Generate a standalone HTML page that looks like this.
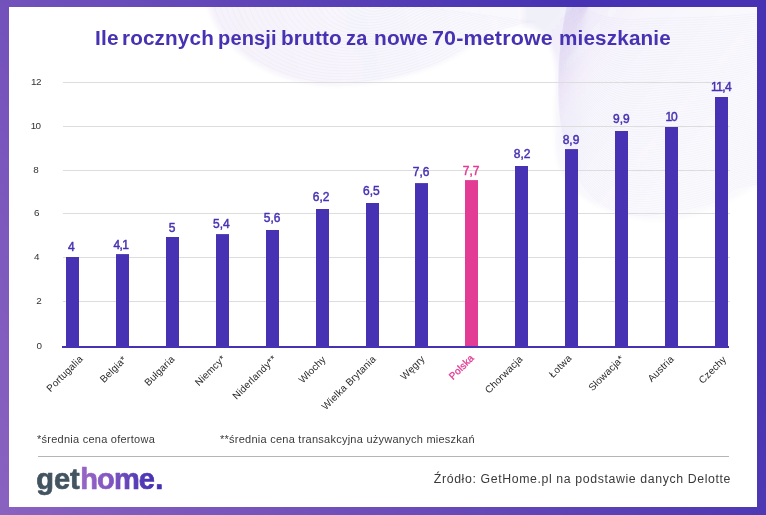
<!DOCTYPE html>
<html lang="pl">
<head>
<meta charset="utf-8">
<title>Ile rocznych pensji brutto za nowe 70-metrowe mieszkanie</title>
<style>
html,body{margin:0;padding:0;}
body{width:766px;height:515px;overflow:hidden;position:relative;font-family:"Liberation Sans",sans-serif;
background:linear-gradient(60deg,#8a62c0 0%,#4632b2 82%,#4632b2 100%);}
.card{position:absolute;left:9px;top:7px;width:748px;height:500px;background:#fff;overflow:hidden;}
.deco{position:absolute;left:0;top:0;}
h1{position:absolute;left:0;top:24px;width:766px;height:28px;margin:0;font-size:20px;line-height:28px;font-weight:bold;color:#4632b2;white-space:nowrap;}
h1 span{position:absolute;top:0;letter-spacing:0.15px;transform-origin:0 0;}
.chart{position:absolute;left:0;top:0;}
.chart text{font-family:"Liberation Sans",sans-serif;}
.yt{font-size:9.9px;fill:#333;text-anchor:middle;}
.y2{letter-spacing:-0.7px;}
.vl{font-size:12px;fill:#4632b2;stroke:#4632b2;stroke-width:0.45px;text-anchor:middle;}
.xl{font-size:10px;fill:#2b2b2b;stroke:none;text-anchor:end;letter-spacing:0.15px;}
.pk{fill:#e23c94;stroke:#e23c94;}
.xl.pk{fill:#e23c94;stroke:#e23c94;stroke-width:0.3px;letter-spacing:0.05px;}
.note{position:absolute;top:431.5px;margin:0;font-size:11px;line-height:14px;color:#3a3a3a;white-space:nowrap;letter-spacing:0.25px;}
.n1{left:37px;}
.n2{left:220px;}
.rule{position:absolute;left:38px;top:456px;width:691px;height:1px;background:#b5b5b5;}
.logo{position:absolute;left:0;top:0;}
.logo text{font-family:"Liberation Sans",sans-serif;}
.src{position:absolute;right:35px;top:470px;margin:0;font-size:12.3px;line-height:18px;color:#3a3a3a;white-space:nowrap;letter-spacing:0.62px;}
</style>
</head>
<body>
<div class="card"></div>
<svg class="deco" width="766" height="515" viewBox="0 0 766 515">
<defs><clipPath id="cardclip"><rect x="9" y="7" width="748" height="500"/></clipPath><filter id="soft" x="-10%" y="-10%" width="120%" height="120%"><feGaussianBlur stdDeviation="2.2"/></filter><linearGradient id="g1" gradientUnits="userSpaceOnUse" x1="230" y1="80" x2="520" y2="0"><stop offset="0" stop-color="#4632b2" stop-opacity="0.052"/><stop offset="1" stop-color="#4632b2" stop-opacity="0.022"/></linearGradient><linearGradient id="g2" gradientUnits="userSpaceOnUse" x1="545" y1="20" x2="700" y2="150"><stop offset="0" stop-color="#4632b2" stop-opacity="0.08"/><stop offset="0.4" stop-color="#4632b2" stop-opacity="0.035"/><stop offset="1" stop-color="#4632b2" stop-opacity="0.02"/></linearGradient></defs>
<g clip-path="url(#cardclip)">
<g filter="url(#soft)"><path d="M207,0 C214,38 248,68 298,81 C340,91 398,82 440,64 C470,50 495,27 524.5,26 L524.5,0 Z" fill="url(#g1)"/><path d="M524,0 L524,26 C545,26 557,50 557,80 C556,100 555,120 556,150 C558,185 590,212 645,220 C690,224 730,202 766,180 L766,0 Z" fill="url(#g2)"/></g>
<g fill="none" stroke="#4632b2" stroke-opacity="0.06" stroke-width="0.5"><path d="M374.2,0.0 C374.5,1.3 375.6,2.3 377.3,2.7 C378.7,3.0 380.6,2.7 382.0,2.1 C383.0,1.7 383.8,0.9 385.3,0.7"/><path d="M368.5,0.0 C368.9,2.5 371.2,4.5 374.5,5.4 C377.3,6.1 381.2,5.5 384.0,4.3 C386.0,3.3 387.7,1.8 390.7,1.5"/><path d="M362.7,0.0 C363.4,3.8 366.8,6.8 371.8,8.1 C376.0,9.1 381.8,8.2 386.0,6.4 C389.0,5.0 391.5,2.7 396.0,2.2"/><path d="M356.9,0.0 C357.9,5.1 362.4,9.1 369.1,10.8 C374.7,12.1 382.4,10.9 388.0,8.5 C392.0,6.7 395.3,3.6 401.3,2.9"/><path d="M351.2,0.0 C352.3,6.3 358.0,11.3 366.3,13.5 C373.3,15.2 383.0,13.7 390.0,10.7 C395.0,8.3 399.2,4.5 406.7,3.7"/><path d="M345.4,0.0 C346.8,7.6 353.6,13.6 363.6,16.2 C372.0,18.2 383.6,16.4 392.0,12.8 C398.0,10.0 403.0,5.4 412.0,4.4"/><path d="M339.6,0.0 C341.3,8.9 349.2,15.9 360.9,18.9 C370.7,21.2 384.2,19.1 394.0,14.9 C401.0,11.7 406.8,6.3 417.3,5.1"/><path d="M333.9,0.0 C335.7,10.1 344.8,18.1 358.1,21.6 C369.3,24.3 384.8,21.9 396.0,17.1 C404.0,13.3 410.7,7.2 422.7,5.9"/><path d="M328.1,0.0 C330.2,11.4 340.4,20.4 355.4,24.3 C368.0,27.3 385.4,24.6 398.0,19.2 C407.0,15.0 414.5,8.1 428.0,6.6"/><path d="M322.3,0.0 C324.7,12.7 336.0,22.7 352.7,27.0 C366.7,30.3 386.0,27.3 400.0,21.3 C410.0,16.7 418.3,9.0 433.3,7.3"/><path d="M316.6,0.0 C319.1,13.9 331.6,24.9 349.9,29.7 C365.3,33.4 386.6,30.1 402.0,23.5 C413.0,18.3 422.2,9.9 438.7,8.1"/><path d="M310.8,0.0 C313.6,15.2 327.2,27.2 347.2,32.4 C364.0,36.4 387.2,32.8 404.0,25.6 C416.0,20.0 426.0,10.8 444.0,8.8"/><path d="M305.0,0.0 C308.1,16.5 322.8,29.5 344.5,35.1 C362.7,39.4 387.8,35.5 406.0,27.7 C419.0,21.7 429.8,11.7 449.3,9.5"/><path d="M299.3,0.0 C302.5,17.7 318.4,31.7 341.7,37.8 C361.3,42.5 388.4,38.3 408.0,29.9 C422.0,23.3 433.7,12.6 454.7,10.3"/><path d="M293.5,0.0 C297.0,19.0 314.0,34.0 339.0,40.5 C360.0,45.5 389.0,41.0 410.0,32.0 C425.0,25.0 437.5,13.5 460.0,11.0"/><path d="M287.7,0.0 C291.5,20.3 309.6,36.3 336.3,43.2 C358.7,48.5 389.6,43.7 412.0,34.1 C428.0,26.7 441.3,14.4 465.3,11.7"/><path d="M282.0,0.0 C285.9,21.5 305.2,38.5 333.5,45.9 C357.3,51.6 390.2,46.5 414.0,36.3 C431.0,28.3 445.2,15.3 470.7,12.5"/><path d="M276.2,0.0 C280.4,22.8 300.8,40.8 330.8,48.6 C356.0,54.6 390.8,49.2 416.0,38.4 C434.0,30.0 449.0,16.2 476.0,13.2"/><path d="M270.4,0.0 C274.9,24.1 296.4,43.1 328.1,51.3 C354.7,57.6 391.4,51.9 418.0,40.5 C437.0,31.7 452.8,17.1 481.3,13.9"/><path d="M264.7,0.0 C269.3,25.3 292.0,45.3 325.3,54.0 C353.3,60.7 392.0,54.7 420.0,42.7 C440.0,33.3 456.7,18.0 486.7,14.7"/><path d="M258.9,0.0 C263.8,26.6 287.6,47.6 322.6,56.7 C352.0,63.7 392.6,57.4 422.0,44.8 C443.0,35.0 460.5,18.9 492.0,15.4"/><path d="M253.1,0.0 C258.3,27.9 283.2,49.9 319.9,59.4 C350.7,66.7 393.2,60.1 424.0,46.9 C446.0,36.7 464.3,19.8 497.3,16.1"/><path d="M247.4,0.0 C252.7,29.1 278.8,52.1 317.1,62.1 C349.3,69.8 393.8,62.9 426.0,49.1 C449.0,38.3 468.2,20.7 502.7,16.9"/><path d="M241.6,0.0 C247.2,30.4 274.4,54.4 314.4,64.8 C348.0,72.8 394.4,65.6 428.0,51.2 C452.0,40.0 472.0,21.6 508.0,17.6"/><path d="M235.8,0.0 C241.7,31.7 270.0,56.7 311.7,67.5 C346.7,75.8 395.0,68.3 430.0,53.3 C455.0,41.7 475.8,22.5 513.3,18.3"/><path d="M230.1,0.0 C236.1,32.9 265.6,58.9 308.9,70.2 C345.3,78.9 395.6,71.1 432.0,55.5 C458.0,43.3 479.7,23.4 518.7,19.1"/><path d="M224.3,0.0 C230.6,34.2 261.2,61.2 306.2,72.9 C344.0,81.9 396.2,73.8 434.0,57.6 C461.0,45.0 483.5,24.3 524.0,19.8"/><path d="M218.5,0.0 C225.1,35.5 256.8,63.5 303.5,75.6 C342.7,84.9 396.8,76.5 436.0,59.7 C464.0,46.7 487.3,25.2 529.3,20.5"/><path d="M212.8,0.0 C219.5,36.7 252.4,65.7 300.7,78.3 C341.3,88.0 397.4,79.3 438.0,61.9 C467.0,48.3 491.2,26.1 534.7,21.3"/><path d="M591.9,0 C577.8,10.6 605.7,21.3 640.1,19.2 S700.0,19.3 766.0,13.0"/><path d="M591.6,0 C577.4,11.7 605.1,23.8 640.4,21.7 S700.0,21.8 766.0,15.1"/><path d="M591.3,0 C577.0,12.8 604.6,26.3 640.6,24.1 S700.0,24.2 766.0,17.1"/><path d="M591.0,0 C576.6,14.0 604.0,28.8 640.8,26.5 S700.0,26.7 766.0,19.2"/><path d="M590.7,0 C576.2,15.1 603.4,31.4 641.1,29.0 S700.0,29.2 766.0,21.2"/><path d="M590.4,0 C575.8,16.2 602.9,33.9 641.3,31.4 S700.0,31.7 766.0,23.3"/><path d="M590.1,0 C575.4,17.4 602.3,36.4 641.5,33.8 S700.0,34.1 766.0,25.3"/><path d="M589.9,0 C575.1,18.5 601.7,38.9 641.8,36.2 S700.0,36.5 766.0,27.4"/><path d="M589.6,0 C574.7,19.6 601.1,41.5 642.0,38.7 S700.0,39.0 766.0,29.4"/><path d="M589.3,0 C574.3,20.7 600.6,44.0 642.3,41.1 S700.0,41.4 766.0,31.5"/><path d="M589.0,0 C573.9,21.9 600.0,46.5 642.5,43.5 S700.0,43.8 766.0,33.5"/><path d="M588.7,0 C573.5,23.0 599.4,49.0 642.7,45.9 S700.0,46.2 766.0,35.5"/><path d="M588.4,0 C573.1,24.1 598.9,51.5 643.0,48.3 S700.0,48.6 766.0,37.6"/><path d="M588.1,0 C572.7,25.3 598.3,54.1 643.2,50.7 S700.0,50.9 766.0,39.6"/><path d="M587.9,0 C572.3,26.4 597.7,56.6 643.5,53.1 S700.0,53.3 766.0,41.7"/><path d="M587.6,0 C571.9,27.5 597.1,59.1 643.7,55.6 S700.0,55.6 766.0,43.7"/><path d="M587.3,0 C571.5,28.7 596.6,61.6 643.9,58.0 S700.0,58.0 766.0,45.8"/><path d="M587.0,0 C571.1,29.8 596.0,64.2 644.2,60.4 S700.0,60.3 766.0,47.8"/><path d="M586.7,0 C570.7,30.9 595.4,66.7 644.4,62.8 S700.0,62.6 766.0,49.9"/><path d="M586.4,0 C570.3,32.1 594.9,69.2 644.6,65.2 S700.0,64.9 766.0,51.9"/><path d="M586.1,0 C569.9,33.2 594.3,71.7 644.9,67.6 S700.0,67.2 766.0,54.0"/><path d="M585.9,0 C569.6,34.3 593.7,74.3 645.1,69.9 S700.0,69.5 766.0,56.0"/><path d="M585.6,0 C569.2,35.4 593.1,76.8 645.4,72.3 S700.0,71.8 766.0,58.1"/><path d="M585.3,0 C568.8,36.6 592.6,79.3 645.6,74.7 S700.0,74.1 766.0,60.1"/><path d="M585.0,0 C568.4,37.7 592.0,81.8 645.8,77.1 S700.0,76.3 766.0,62.2"/><path d="M584.7,0 C568.0,38.8 591.4,84.4 646.1,79.5 S700.0,78.6 766.0,64.2"/><path d="M584.4,0 C567.6,40.0 590.9,86.9 646.3,81.9 S700.0,80.8 766.0,66.3"/><path d="M584.1,0 C567.2,41.1 590.3,89.4 646.5,84.3 S700.0,83.0 766.0,68.3"/><path d="M583.9,0 C566.8,42.2 589.7,91.9 646.8,86.6 S700.0,85.2 766.0,70.4"/><path d="M583.6,0 C566.4,43.4 589.1,94.5 647.0,89.0 S700.0,87.4 766.0,72.4"/><path d="M583.3,0 C566.0,44.5 588.6,97.0 647.3,91.4 S700.0,89.6 766.0,74.5"/><path d="M583.0,0 C565.6,45.6 588.0,99.5 647.5,93.8 S700.0,91.8 766.0,76.5"/><path d="M582.7,0 C565.2,46.8 587.4,102.0 647.7,96.1 S700.0,93.9 766.0,78.5"/><path d="M582.4,0 C564.8,47.9 586.9,104.5 648.0,98.5 S700.0,96.1 766.0,80.6"/><path d="M582.1,0 C564.4,49.0 586.3,107.1 648.2,100.8 S700.0,98.3 766.0,82.6"/><path d="M581.9,0 C564.1,50.1 585.7,109.6 648.5,103.2 S700.0,100.4 766.0,84.7"/><path d="M581.6,0 C563.7,51.3 585.1,112.1 648.7,105.6 S700.0,102.5 766.0,86.7"/><path d="M581.3,0 C563.3,52.4 584.6,114.6 648.9,107.9 S700.0,104.6 766.0,88.8"/><path d="M581.0,0 C562.9,53.5 584.0,117.2 649.2,110.3 S700.0,106.7 766.0,90.8"/><path d="M580.7,0 C562.5,54.7 583.4,119.7 649.4,112.6 S700.0,108.8 766.0,92.9"/><path d="M580.4,0 C562.1,55.8 582.9,122.2 649.6,115.0 S700.0,110.9 766.0,94.9"/><path d="M580.1,0 C561.7,56.9 582.3,124.7 649.9,117.3 S700.0,113.0 766.0,97.0"/><path d="M579.9,0 C561.3,58.1 581.7,127.3 650.1,119.7 S700.0,115.0 766.0,99.0"/><path d="M579.6,0 C560.9,59.2 581.1,129.8 650.4,122.0 S700.0,117.1 766.0,101.1"/><path d="M579.3,0 C560.5,60.3 580.6,132.3 650.6,124.4 S700.0,119.1 766.0,103.1"/><path d="M579.0,0 C560.1,61.5 580.0,134.8 650.8,126.7 S700.0,121.1 766.0,105.2"/><path d="M578.7,0 C559.7,62.6 579.4,137.4 651.1,129.0 S700.0,123.2 766.0,107.2"/><path d="M578.4,0 C559.3,63.7 578.9,139.9 651.3,131.4 S700.0,125.2 766.0,109.3"/><path d="M578.1,0 C558.9,64.9 578.3,142.4 651.5,133.7 S700.0,127.2 766.0,111.3"/><path d="M577.9,0 C558.6,66.0 577.7,144.9 651.8,136.0 S700.0,129.1 766.0,113.4"/><path d="M577.6,0 C558.2,67.1 577.1,147.5 652.0,138.4 S700.0,131.1 766.0,115.4"/><path d="M577.3,0 C557.8,68.2 576.6,150.0 652.3,140.7 S700.0,133.1 766.0,117.5"/><path d="M577.0,0 C557.4,69.4 576.0,152.5 652.5,143.0 S700.0,135.0 766.0,119.5"/><path d="M576.7,0 C557.0,70.5 575.4,155.0 652.7,145.3 S700.0,137.0 766.0,121.5"/><path d="M576.4,0 C556.6,71.6 574.9,157.5 653.0,147.6 S700.0,138.9 766.0,123.6"/><path d="M576.1,0 C556.2,72.8 574.3,160.1 653.2,150.0 S700.0,140.8 766.0,125.6"/><path d="M575.9,0 C555.8,73.9 573.7,162.6 653.5,152.3 S700.0,142.7 766.0,127.7"/><path d="M575.6,0 C555.4,75.0 573.1,165.1 653.7,154.6 S700.0,144.6 766.0,129.7"/><path d="M575.3,0 C555.0,76.2 572.6,167.6 653.9,156.9 S700.0,146.5 766.0,131.8"/><path d="M575.0,0 C554.6,77.3 572.0,170.2 654.2,159.2 S700.0,148.4 766.0,133.8"/><path d="M574.7,0 C554.2,78.4 571.4,172.7 654.4,161.5 S700.0,150.3 766.0,135.9"/><path d="M574.4,0 C553.8,79.6 570.9,175.2 654.6,163.8 S700.0,152.1 766.0,137.9"/><path d="M574.1,0 C553.4,80.7 570.3,177.7 654.9,166.1 S700.0,154.0 766.0,140.0"/><path d="M573.9,0 C553.1,81.8 569.7,180.3 655.1,168.4 S700.0,155.8 766.0,142.0"/><path d="M573.6,0 C552.7,82.9 569.1,182.8 655.4,170.7 S700.0,157.6 766.0,144.1"/><path d="M573.3,0 C552.3,84.1 568.6,185.3 655.6,173.0 S700.0,159.4 766.0,146.1"/><path d="M573.0,0 C551.9,85.2 568.0,187.8 655.8,175.3 S700.0,161.2 766.0,148.2"/><path d="M572.7,0 C551.5,86.3 567.4,190.4 656.1,177.6 S700.0,163.0 766.0,150.2"/><path d="M572.4,0 C551.1,87.5 566.9,192.9 656.3,179.9 S700.0,164.8 766.0,152.3"/><path d="M572.1,0 C550.7,88.6 566.3,195.4 656.5,182.1 S700.0,166.6 766.0,154.3"/><path d="M571.9,0 C550.3,89.7 565.7,197.9 656.8,184.4 S700.0,168.3 766.0,156.4"/><path d="M571.6,0 C549.9,90.9 565.1,200.5 657.0,186.7 S700.0,170.1 766.0,158.4"/><path d="M571.3,0 C549.5,92.0 564.6,203.0 657.3,189.0 S700.0,171.8 766.0,160.5"/><path d="M571.0,0 C549.1,93.1 564.0,205.5 657.5,191.2 S700.0,173.5 766.0,162.5"/><path d="M570.7,0 C548.7,94.3 563.4,208.0 657.7,193.5 S700.0,175.2 766.0,164.5"/><path d="M570.4,0 C548.3,95.4 562.9,210.5 658.0,195.8 S700.0,177.0 766.0,166.6"/><path d="M570.1,0 C547.9,96.5 562.3,213.1 658.2,198.1 S700.0,178.6 766.0,168.6"/><path d="M569.9,0 C547.6,97.6 561.7,215.6 658.5,200.3 S700.0,180.3 766.0,170.7"/><path d="M569.6,0 C547.2,98.8 561.1,218.1 658.7,202.6 S700.0,182.0 766.0,172.7"/><path d="M569.3,0 C546.8,99.9 560.6,220.6 658.9,204.9 S700.0,183.7 766.0,174.8"/><path d="M569.0,0 C546.4,101.0 560.0,223.2 659.2,207.1 S700.0,185.3 766.0,176.8"/><path d="M568.7,0 C546.0,102.2 559.4,225.7 659.4,209.4 S700.0,186.9 766.0,178.9"/><path d="M568.4,0 C545.6,103.3 558.9,228.2 659.6,211.6 S700.0,188.6 766.0,180.9"/><path d="M568.1,0 C545.2,104.4 558.3,230.7 659.9,213.9 S700.0,190.2 766.0,183.0"/></g>
</g></svg>
<h1><span style="left:94.5px;transform:scaleX(1.043)">Ile</span> <span style="left:122.3px;transform:scaleX(1.033)">rocznych</span> <span style="left:217.6px;transform:scaleX(1.001)">pensji</span> <span style="left:281.0px;transform:scaleX(1.038)">brutto</span> <span style="left:346.2px;transform:scaleX(0.998)">za</span> <span style="left:373.8px;transform:scaleX(1.043)">nowe</span> <span style="left:431.9px;transform:scaleX(1.073)">70-metrowe</span> <span style="left:558.8px;transform:scaleX(1.034)">mieszkanie</span></h1>
<svg class="chart" width="766" height="515" viewBox="0 0 766 515">
<line x1="63" x2="730" y1="82.5" y2="82.5" stroke="#dddddd" stroke-width="1"/>
<line x1="63" x2="730" y1="126.5" y2="126.5" stroke="#dddddd" stroke-width="1"/>
<line x1="63" x2="730" y1="170.5" y2="170.5" stroke="#dddddd" stroke-width="1"/>
<line x1="63" x2="730" y1="213.5" y2="213.5" stroke="#dddddd" stroke-width="1"/>
<line x1="63" x2="730" y1="257.5" y2="257.5" stroke="#dddddd" stroke-width="1"/>
<line x1="63" x2="730" y1="301.5" y2="301.5" stroke="#dddddd" stroke-width="1"/>
<text class="yt y2" x="35.9" y="85.0">12</text>
<text class="yt y2" x="35.6" y="128.8">10</text>
<text class="yt" x="36" y="172.9">8</text>
<text class="yt" x="36.7" y="215.8">6</text>
<text class="yt" x="36.8" y="260.0">4</text>
<text class="yt" x="39" y="303.5">2</text>
<text class="yt" x="39.3" y="349.2">0</text>
<rect x="66" y="257" width="13" height="90.0" fill="#4632b2"/>
<rect x="116" y="254.1" width="13" height="92.9" fill="#4632b2"/>
<rect x="166" y="237" width="13" height="110.0" fill="#4632b2"/>
<rect x="216" y="234.1" width="13" height="112.9" fill="#4632b2"/>
<rect x="266" y="230" width="13" height="117.0" fill="#4632b2"/>
<rect x="316" y="209" width="13" height="138.0" fill="#4632b2"/>
<rect x="366" y="203" width="13" height="144.0" fill="#4632b2"/>
<rect x="415" y="183.1" width="13" height="163.9" fill="#4632b2"/>
<rect x="465" y="180.1" width="13" height="166.9" fill="#e23c94"/>
<rect x="515" y="166" width="13" height="181.0" fill="#4632b2"/>
<rect x="565" y="149.1" width="13" height="197.9" fill="#4632b2"/>
<rect x="615" y="131" width="13" height="216.0" fill="#4632b2"/>
<rect x="665" y="127" width="13" height="220.0" fill="#4632b2"/>
<rect x="715" y="97" width="13" height="250.0" fill="#4632b2"/>
<rect x="62" y="346" width="667" height="2" fill="#4632b2"/>
<text class="vl" x="71.3" y="250.7">4</text>
<text class="vl" x="121.2" y="248.8" textLength="15.4" lengthAdjust="spacing">4,1</text>
<text class="vl" x="172.1" y="231.7">5</text>
<text class="vl" x="221.3" y="228">5,4</text>
<text class="vl" x="272.1" y="221.6">5,6</text>
<text class="vl" x="321.2" y="200.7">6,2</text>
<text class="vl" x="371.3" y="194.7">6,5</text>
<text class="vl" x="421.2" y="175.9">7,6</text>
<text class="vl pk" x="471.1" y="174.5">7,7</text>
<text class="vl" x="522.2" y="157.9">8,2</text>
<text class="vl" x="571" y="143.8">8,9</text>
<text class="vl" x="621.3" y="123.4">9,9</text>
<text class="vl" x="671.6" y="120.5" textLength="12.3" lengthAdjust="spacing">10</text>
<text class="vl" x="721.3" y="90.9" textLength="20.6" lengthAdjust="spacing">11,4</text>
<text class="xl" transform="translate(83.5 359.5) rotate(-45)">Portugalia</text>
<text class="xl" transform="translate(127.2 360.2) rotate(-45)">Belgia*</text>
<text class="xl" transform="translate(175.3 359.7) rotate(-45)">Bułgaria</text>
<text class="xl" transform="translate(226 359.5) rotate(-45)">Niemcy*</text>
<text class="xl" transform="translate(277 359.5) rotate(-45)">Niderlandy**</text>
<text class="xl" transform="translate(326.5 360) rotate(-45)">Włochy</text>
<text class="xl" transform="translate(376.5 359.7) rotate(-45)">Wielka Brytania</text>
<text class="xl" transform="translate(425.5 359.5) rotate(-45)">Węgry</text>
<text class="xl pk" transform="translate(474.5 358.8) rotate(-45)">Polska</text>
<text class="xl" transform="translate(523.3 359.7) rotate(-45)">Chorwacja</text>
<text class="xl" transform="translate(572.3 358.8) rotate(-45)">Łotwa</text>
<text class="xl" transform="translate(624.5 359.5) rotate(-45)">Słowacja*</text>
<text class="xl" transform="translate(674.5 359.7) rotate(-45)">Austria</text>
<text class="xl" transform="translate(727 360) rotate(-45)">Czechy</text>
</svg>
<p class="note n1">*średnia cena ofertowa</p>
<p class="note n2">**średnia cena transakcyjna używanych mieszkań</p>
<div class="rule"></div>
<svg class="logo" width="766" height="515" viewBox="0 0 766 515" role="img" aria-label="gethome.">
<defs><linearGradient id="lg" gradientUnits="userSpaceOnUse" x1="82" y1="0" x2="154" y2="0"><stop offset="0" stop-color="#9765c7"/><stop offset="0.4" stop-color="#8055c1"/><stop offset="0.75" stop-color="#5a3eb6"/><stop offset="1" stop-color="#4632b2"/></linearGradient></defs>
<text x="36.2" y="489" font-size="29" font-weight="bold" stroke-width="0.7" stroke-linejoin="round"><tspan fill="#435461" stroke="#435461">get</tspan><tspan dx="0.6" fill="url(#lg)" stroke="url(#lg)" letter-spacing="-0.9">home</tspan><tspan dx="1.2" fill="#4632b2" stroke="#4632b2">.</tspan></text>
</svg>
<p class="src">Źródło: GetHome.pl na podstawie danych Delotte</p>
</body>
</html>
